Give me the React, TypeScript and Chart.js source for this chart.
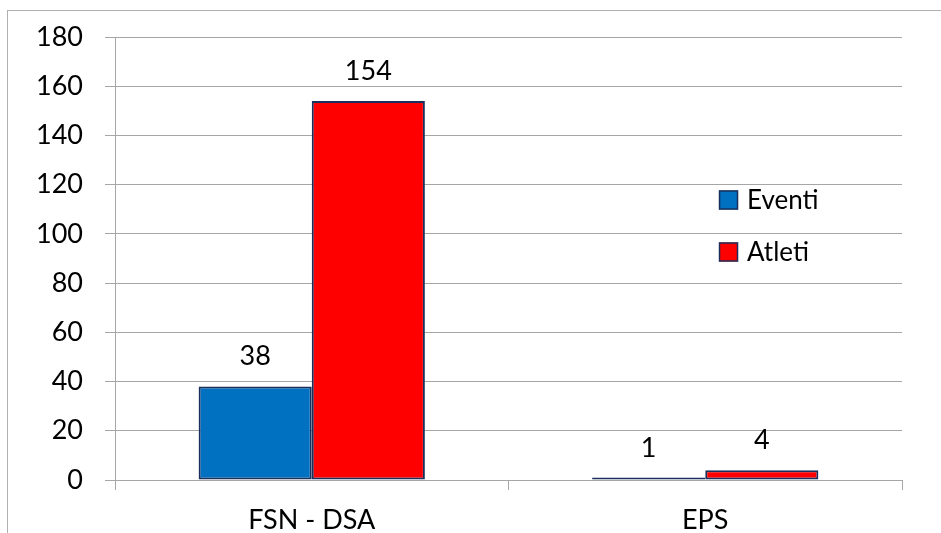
import React, { useEffect, useRef } from "react";
import { Chart, registerables } from "chart.js";

Chart.register(...registerables);

const categories = ["FSN - DSA", "EPS"];
const seriesNames = ["Eventi", "Atleti"];
const eventiValues = [38, 1];
const atletiValues = [154, 4];
const yTicks = [0, 20, 40, 60, 80, 100, 120, 140, 160, 180];

const BLUE = "#0070C0";
const RED = "#FF0000";
const EDGE = "#1A2F5C";
const GRID = "#A6A6A6";
const FONT = "Lato, 'Open Sans', sans-serif";

const valueLabels = {
  id: "valueLabels",
  afterDatasetsDraw(chart: any) {
    const ctx = chart.ctx;
    ctx.save();
    ctx.font = `27px ${FONT}`;
    ctx.fillStyle = "#000";
    ctx.textAlign = "center";
    ctx.textBaseline = "alphabetic";
    chart.data.datasets.forEach((ds: any, i: number) => {
      const meta = chart.getDatasetMeta(i);
      meta.data.forEach((el: any, j: number) => {
        ctx.fillText(String(ds.data[j]), el.x, el.y - 21);
      });
    });
    ctx.restore();
  },
};

const innerLegend = {
  id: "innerLegend",
  afterDraw(chart: any) {
    const ctx = chart.ctx;
    const area = chart.chartArea;
    const x0 = area.left + (area.right - area.left) * 0.7675;
    const ys = [area.top + 163, area.top + 215];
    ctx.save();
    ctx.font = `26px ${FONT}`;
    ctx.textAlign = "left";
    ctx.textBaseline = "middle";
    chart.data.datasets.forEach((ds: any, i: number) => {
      const y = ys[i];
      ctx.fillStyle = ds.backgroundColor;
      ctx.fillRect(x0, y - 9.5, 19, 19);
      ctx.strokeStyle = EDGE;
      ctx.lineWidth = 1.5;
      ctx.strokeRect(x0 + 0.5, y - 9, 18, 18);
      ctx.fillStyle = "#000";
      ctx.fillText(ds.label, x0 + 28, y + 1);
    });
    ctx.restore();
  },
};

export default function App() {
  const ref = useRef<HTMLCanvasElement | null>(null);
  useEffect(() => {
    if (!ref.current) return;
    const chart = new Chart(ref.current, {
      type: "bar",
      data: {
        labels: categories,
        datasets: [
          {
            label: seriesNames[0],
            data: eventiValues,
            backgroundColor: BLUE,
            borderColor: EDGE,
            borderWidth: 2,
            borderSkipped: false,
            categoryPercentage: 0.575,
            barPercentage: 1,
          },
          {
            label: seriesNames[1],
            data: atletiValues,
            backgroundColor: RED,
            borderColor: EDGE,
            borderWidth: 2,
            borderSkipped: false,
            categoryPercentage: 0.575,
            barPercentage: 1,
          },
        ],
      },
      options: {
        animation: false,
        responsive: true,
        maintainAspectRatio: false,
        layout: { padding: { top: 26, right: 39, left: 0, bottom: 0 } },
        plugins: { legend: { display: false }, tooltip: { enabled: false } },
        scales: {
          x: {
            afterFit: (s: any) => {
              s.height = 53;
              s.paddingLeft = 0;
              s.paddingRight = 0;
            },
            grid: {
              offset: true,
              drawOnChartArea: false,
              tickLength: 10,
              color: GRID,
            },
            border: { display: true, color: GRID },
            ticks: { font: { family: FONT, size: 27 }, color: "#000", padding: 14 },
          },
          y: {
            min: 0,
            max: 180,
            afterFit: (s: any) => {
              s.width = 107;
              s.paddingTop = 0;
              s.paddingBottom = 0;
            },
            afterBuildTicks: (s: any) => {
              s.ticks = yTicks.map((v) => ({ value: v }));
            },
            grid: { color: GRID, tickLength: 10 },
            border: { display: true, color: GRID },
            ticks: {
              font: { family: FONT, size: 27 },
              color: "#000",
              padding: 22,
            },
          },
        },
      },
      plugins: [valueLabels, innerLegend],
    });
    return () => chart.destroy();
  }, []);
  return (
    <div>
      <div
        style={{
          position: "absolute",
          left: 7,
          top: 10,
          width: 934,
          height: 523,
          boxSizing: "border-box",
          borderTop: "1px solid #B0B0B0",
          borderLeft: "1px solid #B0B0B0",
        }}
      />
      <div style={{ position: "absolute", left: 8, top: 11, width: 933, height: 522 }}>
        <canvas ref={ref} />
      </div>
    </div>
  );
}
